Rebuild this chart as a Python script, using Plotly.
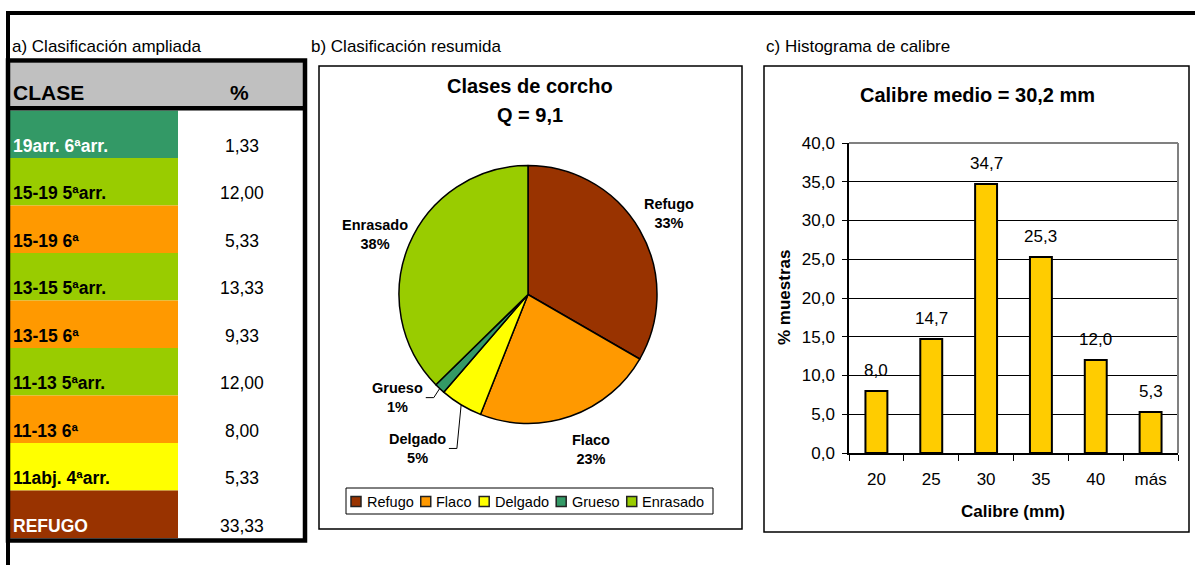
import math
import plotly.graph_objects as go

# ---------------- data ----------------
table_classes = ["19arr. 6ªarr.", "15-19 5ªarr.", "15-19 6ª", "13-15 5ªarr.", "13-15 6ª",
                 "11-13 5ªarr.", "11-13 6ª", "11abj. 4ªarr.", "REFUGO"]
table_pct = [1.33, 12.00, 5.33, 13.33, 9.33, 12.00, 8.00, 5.33, 33.33]
table_fill = ["#339966", "#99CC00", "#FF9900", "#99CC00", "#FF9900",
              "#99CC00", "#FF9900", "#FFFF00", "#993300"]
table_font_color = ["white", "black", "black", "black", "black",
                    "black", "black", "black", "white"]

pie_labels = ["Refugo", "Flaco", "Delgado", "Grueso", "Enrasado"]
pie_values = [33.33, 22.67, 5.33, 1.33, 37.33]
pie_pct_text = ["33%", "23%", "5%", "1%", "38%"]
pie_colors = ["#993300", "#FF9900", "#FFFF00", "#339966", "#99CC00"]

hist_categories = ["20", "25", "30", "35", "40", "más"]
hist_values = [8.0, 14.7, 34.7, 25.3, 12.0, 5.3]

# label placement style for pie labels (radius factor, angle shift, leader line)
label_radius = [1.26, 1.30, 1.47, 1.29, 1.27]
label_angle_shift = [0, -3, 4.5, 8.5, -1.4]
label_leader = [False, False, True, True, False]

# ---------------- helpers ----------------
W, H = 1195, 565
FONT = "Liberation Sans, Arial, sans-serif"


def X(p):
    return p / W


def Y(p):
    return 1 - p / H


def mid_from_baseline(baseline, fs):
    return baseline - 0.35 * fs


shapes = []
annotations = []


def rect(x0, y0, x1, y1, fill=None, line_color=None, line_width=0, layer="below"):
    shapes.append(dict(type="rect", xref="paper", yref="paper",
                       x0=X(x0), x1=X(x1), y0=Y(y1), y1=Y(y0),
                       fillcolor=fill if fill else "rgba(0,0,0,0)",
                       line=dict(color=line_color if line_color else "rgba(0,0,0,0)",
                                 width=line_width),
                       layer=layer))


def line(x0, y0, x1, y1, color="black", width=1, layer="above"):
    shapes.append(dict(type="line", xref="paper", yref="paper",
                       x0=X(x0), x1=X(x1), y0=Y(y0), y1=Y(y1),
                       line=dict(color=color, width=width), layer=layer))


def path(points, color="black", width=1):
    d = "M " + " L ".join(f"{X(px)},{Y(py)}" for px, py in points)
    shapes.append(dict(type="path", xref="paper", yref="paper", path=d,
                       line=dict(color=color, width=width), layer="above"))


def text(x, baseline, s, fs, bold=False, color="black", xanchor="left"):
    annotations.append(dict(xref="paper", yref="paper", x=X(x),
                            y=Y(mid_from_baseline(baseline, fs)),
                            text=f"<b>{s}</b>" if bold else s, showarrow=False,
                            xanchor=xanchor, yanchor="middle",
                            font=dict(family=FONT, size=fs, color=color)))


# ---------------- outer frame ----------------
line(6, 13, 1200, 13, width=4)
line(8, 11, 8, 575, width=4)

# ---------------- subtitles ----------------
text(10, 52, "a) Clasificación ampliada", 17)
text(309, 52, "b) Clasificación resumida", 17)
text(764, 52, "c) Histograma de calibre", 17)

# ---------------- table ----------------
tx0, tx_mid, tx1 = 10, 178, 303
header_top, header_bot = 63, 106
rows_top, rows_bot = 110.5, 538
rect(tx0, header_top, tx1, header_bot, fill="#C0C0C0")
n = len(table_classes)
rh = (rows_bot - rows_top) / n
for i, (lab, v, fc, tc) in enumerate(zip(table_classes, table_pct, table_fill, table_font_color)):
    top = rows_top + i * rh
    bot = top + rh
    rect(tx0, top, tx_mid, bot, fill=fc)
    text(11, bot - 6, lab, 17.5, bold=True, color=tc)
    text(242, bot - 6, f"{v:.2f}".replace(".", ","), 17.5, xanchor="center")
text(11, 100, "CLASE", 21, bold=True)
text(239, 100, "%", 21, bold=True, xanchor="center")
line(tx0, 108.3, tx1, 108.3, width=4.5)
rect(8, 60.5, 305, 540.5, line_color="black", line_width=4.5, layer="above")

# ---------------- pie panel ----------------
rect(319, 66, 742, 529, line_color="black", line_width=1.5, layer="above")
text(530, 93, "Clases de corcho", 20, bold=True, xanchor="center")
text(530, 122, "Q = 9,1", 20, bold=True, xanchor="center")

char_w = {"R": .722, "e": .556, "f": .278, "u": .556, "g": .556, "o": .556, "F": .611,
          "l": .222, "a": .556, "c": .5, "D": .722, "d": .556, "G": .778, "r": .333,
          "s": .5, "E": .667, "n": .556}
char_wb = {"R": .722, "e": .556, "f": .333, "u": .611, "g": .611, "o": .611, "F": .611,
           "l": .278, "a": .556, "c": .556, "D": .722, "d": .611, "G": .778, "r": .389,
           "s": .556, "E": .667, "n": .611}

# custom legend for pie (built from pie_labels)
leg_fs = 14.5
rect(346, 488, 713, 514, fill="white", line_color="black", line_width=1, layer="above")
lx = 351
for lab, col in zip(pie_labels, pie_colors):
    rect(lx, 496.5, lx + 10, 506.5, fill=col, line_color="#222", line_width=1.5, layer="above")
    text(lx + 13.5, 507, lab, leg_fs)
    lx += 13.5 + sum(char_w.get(ch, .55) for ch in lab) * leg_fs + 9.5

# pie geometry (pixels)
pcx, pcy, pr = 528, 294.5, 129
lab_fs = 14.5
total = sum(pie_values)
cum = 0.0
for i, (lab, v, pct) in enumerate(zip(pie_labels, pie_values, pie_pct_text)):
    mid = (cum + v / 2) / total * 360.0
    cum += v
    a = math.radians(mid + label_angle_shift[i])
    lxc = pcx + label_radius[i] * pr * math.sin(a)
    lyc = pcy - label_radius[i] * pr * math.cos(a)
    annotations.append(dict(xref="paper", yref="paper", x=X(lxc), y=Y(lyc),
                            text=f"<b>{lab}</b><br><b>{pct}</b>", showarrow=False,
                            xanchor="center", yanchor="middle", align="center",
                            font=dict(family=FONT, size=lab_fs, color="black")))
    if label_leader[i]:
        am = math.radians(mid)
        ex = pcx + pr * math.sin(am)
        ey = pcy - pr * math.cos(am)
        half = sum(char_wb.get(ch, .6) for ch in lab) * lab_fs / 2
        sx = lxc + half + 3
        path([(sx, lyc), (sx + 8, lyc), (ex, ey)], width=1)

pie = go.Pie(labels=pie_labels, values=pie_values, textinfo="none",
             direction="clockwise", sort=False, rotation=0,
             marker=dict(colors=pie_colors, line=dict(color="black", width=1.5)),
             domain=dict(x=[X(pcx - pr), X(pcx + pr)], y=[Y(pcy + pr), Y(pcy - pr)]),
             showlegend=False, hoverinfo="label+percent")

# ---------------- histogram panel ----------------
rect(764, 66, 1189, 532, line_color="black", line_width=1.5, layer="above")
text(977, 102, "Calibre medio = 30,2 mm", 20, bold=True, xanchor="center")
text(1013, 517, "Calibre (mm)", 17, bold=True, xanchor="center")
annotations.append(dict(xref="paper", yref="paper", x=X(784), y=Y(298),
                        text="<b>% muestras</b>", showarrow=False, textangle=-90,
                        xanchor="center", yanchor="middle",
                        font=dict(family=FONT, size=17, color="black")))

bar = go.Bar(x=hist_categories, y=hist_values, xaxis="x", yaxis="y",
             marker=dict(color="#FFCC00", line=dict(color="black", width=2)),
             showlegend=False, hoverinfo="x+y")

for i, v in enumerate(hist_values):
    annotations.append(dict(xref="x", yref="y", x=i, y=v,
                            text=f"{v:.1f}".replace(".", ","), showarrow=False,
                            xanchor="center", yanchor="bottom", yshift=9,
                            font=dict(family=FONT, size=17, color="black")))

# plot-area gray border (top and right)
shapes.append(dict(type="line", xref="x domain", yref="y domain", x0=0, x1=1, y0=1, y1=1,
                   line=dict(color="#808080", width=2), layer="above"))
shapes.append(dict(type="line", xref="x domain", yref="y domain", x0=1, x1=1, y0=0, y1=1,
                   line=dict(color="#808080", width=2), layer="above"))

fig = go.Figure(data=[pie, bar])
fig.update_layout(
    width=W, height=H, margin=dict(l=0, r=0, t=0, b=0, autoexpand=False),
    paper_bgcolor="white", plot_bgcolor="white",
    font=dict(family=FONT, size=14, color="black"),
    separators=",.",
    bargap=0.6, showlegend=False,
    xaxis=dict(domain=[X(849), X(1178)], type="category", range=[-0.5, 5.5],
               showline=True, linecolor="black", automargin=False,
               linewidth=1.5, ticks="outside", tickson="boundaries", ticklen=6,
               tickcolor="black", tickwidth=1, tickfont=dict(size=17), showgrid=False,
               ticklabelstandoff=10, fixedrange=True),
    yaxis=dict(domain=[Y(453), Y(143)], range=[0, 40], dtick=5, tickformat=".1f",
               showgrid=True, gridcolor="black", gridwidth=1, showline=True,
               linecolor="black", linewidth=1.5, ticks="outside", ticklen=5,
               tickcolor="black", tickfont=dict(size=17), zeroline=False,
               automargin=False, ticklabelstandoff=4, fixedrange=True),
    shapes=shapes, annotations=annotations,
)
fig.write_html(
    "out.html",
    config={"displayModeBar": False},
    post_script="document.body.style.margin='0px';"
                "document.documentElement.style.overflow='hidden';",
)
